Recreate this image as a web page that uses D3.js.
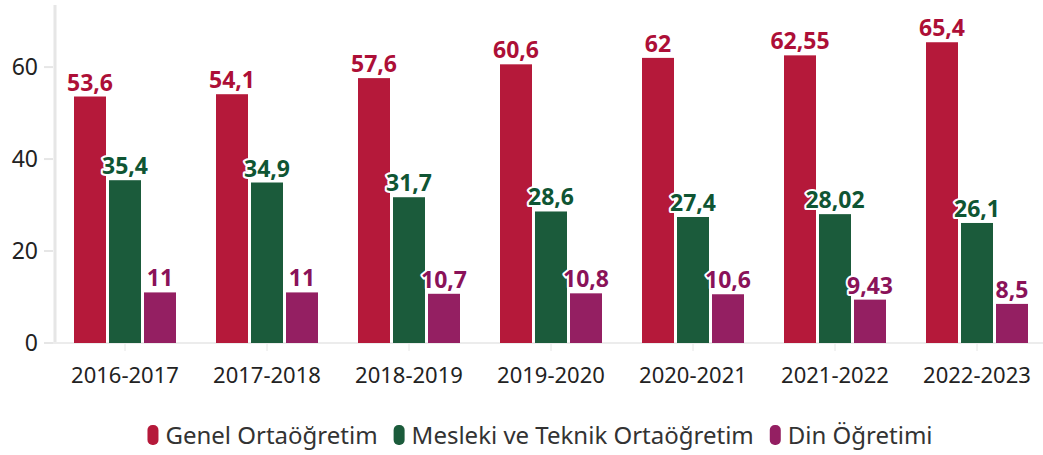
<!DOCTYPE html>
<html>
<head>
<meta charset="utf-8">
<script src="https://cdn.jsdelivr.net/npm/d3@7"></script>
<style>
  body { margin: 0; background: #fff; }
  text { font-family: "Noto Sans", sans-serif; }
</style>
</head>
<body>
<div id="chart"></div>
<script>
var years = ["2016-2017","2017-2018","2018-2019","2019-2020","2020-2021","2021-2022","2022-2023"];
var seriesNames = ["Genel Ortaöğretim","Mesleki ve Teknik Ortaöğretim","Din Öğretimi"];
var genel   = [53.6, 54.1, 57.6, 60.6, 62, 62.55, 65.4];
var mesleki = [35.4, 34.9, 31.7, 28.6, 27.4, 28.02, 26.1];
var din     = [11, 11, 10.7, 10.8, 10.6, 9.43, 8.5];
var yTicks  = [0, 20, 40, 60];
var barColors   = ["#b5193a", "#1b5b3b", "#941f62"];
var labelColors = ["#ad0f37", "#0f5533", "#8a1259"];

var width = 1043, height = 455;
var series = [genel, mesleki, din];

var svg = d3.select("#chart").append("svg")
  .attr("width", width)
  .attr("height", height);

var x = d3.scaleBand().domain(years).range([54, 1048]).paddingInner(0).paddingOuter(0);
var y = d3.scaleLinear().domain([0, 73.5]).range([343, 5]);

// y axis line
svg.append("line")
  .attr("x1", 55).attr("x2", 55)
  .attr("y1", y(73.5)).attr("y2", y(0) + 1)
  .attr("stroke", "#e6e6e6").attr("stroke-width", 3);
// baseline
svg.append("line")
  .attr("x1", 44).attr("x2", 1043)
  .attr("y1", y(0)).attr("y2", y(0))
  .attr("stroke", "#ececec").attr("stroke-width", 2);

var yAxis = svg.append("g").selectAll("g").data(yTicks).enter().append("g");
yAxis.append("line")
  .attr("x1", 44).attr("x2", 53)
  .attr("y1", function(d){ return y(d); }).attr("y2", function(d){ return y(d); })
  .attr("stroke", "#e6e6e6").attr("stroke-width", 2);
yAxis.append("text")
  .attr("x", 38).attr("y", function(d){ return y(d); })
  .attr("dy", "0.35em")
  .attr("text-anchor", "end")
  .attr("font-size", 23)
  .attr("fill", "#222")
  .text(function(d){ return d; });

// x ticks and labels
var xAxis = svg.append("g").selectAll("g").data(years).enter().append("g");
xAxis.append("line")
  .attr("x1", function(d){ return x(d) + x.bandwidth()/2; })
  .attr("x2", function(d){ return x(d) + x.bandwidth()/2; })
  .attr("y1", y(0) + 1).attr("y2", y(0) + 8)
  .attr("stroke", "#e6e6e6").attr("stroke-width", 1);
xAxis.append("text")
  .attr("x", function(d){ return x(d) + x.bandwidth()/2; })
  .attr("y", 383)
  .attr("text-anchor", "middle")
  .attr("font-size", 22)
  .attr("fill", "#222")
  .text(function(d){ return d; });

var barW = 32, barStep = 35;
function fmt(v){ return String(v).replace(".", ","); }

series.forEach(function(vals, si){
  var g = svg.append("g");
  var cx = function(d, i){ return x(years[i]) + x.bandwidth()/2 + (si - 1) * barStep; };
  g.selectAll("rect").data(vals).enter().append("rect")
    .attr("x", function(d, i){ return cx(d, i) - barW/2; })
    .attr("y", function(d){ return y(d); })
    .attr("width", barW)
    .attr("height", function(d){ return y(0) - y(d); })
    .attr("fill", barColors[si]);
  g.selectAll("text").data(vals).enter().append("text")
    .attr("x", function(d, i){ return cx(d, i); })
    .attr("y", function(d){ return y(d) - 6; })
    .attr("text-anchor", "middle")
    .attr("font-size", 23)
    .attr("font-weight", "bold")
    .attr("fill", labelColors[si])
    .attr("stroke", "#fff").attr("stroke-width", 4)
    .attr("stroke-linejoin", "round")
    .attr("paint-order", "stroke")
    .text(fmt);
});

// legend
var legend = svg.append("g");
var lx = 0;
seriesNames.forEach(function(name, i){
  var item = legend.append("g").attr("transform", "translate(" + lx + ",0)");
  item.append("rect")
    .attr("x", 0).attr("y", 425).attr("width", 11).attr("height", 20)
    .attr("rx", 5).attr("ry", 5)
    .attr("fill", barColors[i]);
  var t = item.append("text")
    .attr("x", 18).attr("y", 444)
    .attr("font-size", 24)
    .attr("fill", "#333")
    .text(name);
  lx += 18 + t.node().getComputedTextLength() + 16;
});
var lw = lx - 16;
legend.attr("transform", "translate(" + ((137 + 943) / 2 - lw / 2) + ",0)");
</script>
</body>
</html>
